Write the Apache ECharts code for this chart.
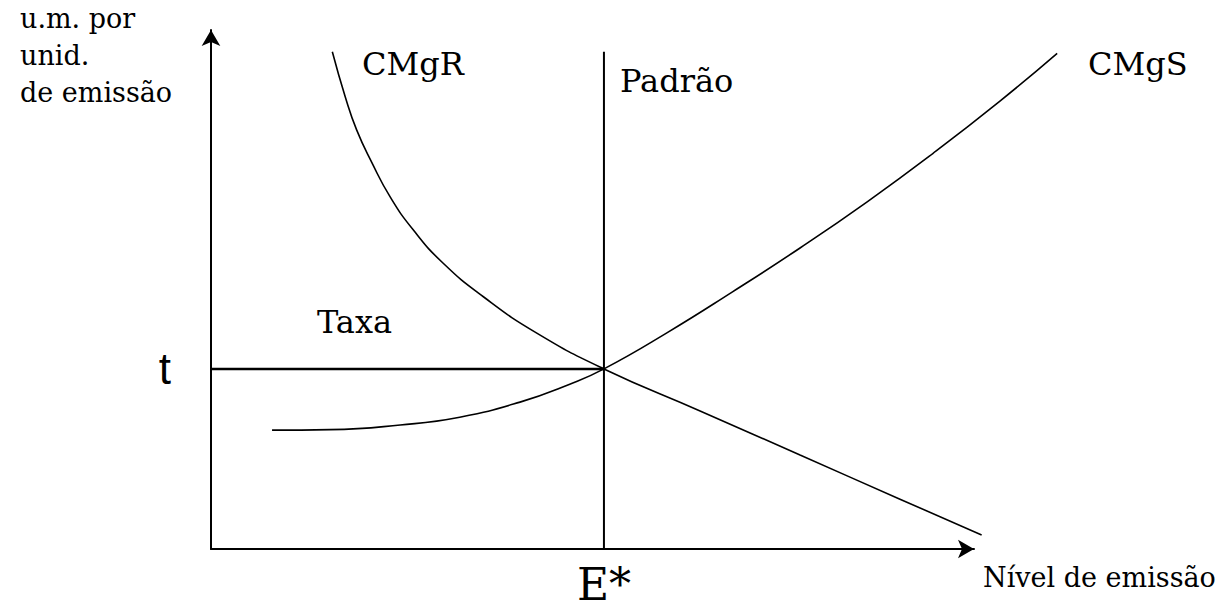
<!DOCTYPE html>
<html>
<head>
<meta charset="utf-8">
<script src="https://cdn.jsdelivr.net/npm/echarts@6/dist/echarts.min.js"></script>
<style>
  html, body { margin: 0; padding: 0; background: #fff; }
  #chart { width: 1225px; height: 611px; }
</style>
</head>
<body>
<div id="chart"></div>
<script>
// values (x: emission level, y: cost per unit)
const cmgR = [[1.59, 9.58], [1.76, 8.71], [1.91, 8.07], [2.11, 7.44], [2.35, 6.78], [2.65, 6.15],
  [3.04, 5.51], [3.57, 4.86], [4.27, 4.16], [5.15, 3.47], [6.41, 2.66], [7.72, 1.81], [9.03, 0.96], [10.1, 0.27]]
const cmgS = [[0.8, 2.29], [1.56, 2.3], [2.48, 2.39], [3.26, 2.54], [4.05, 2.83], [4.71, 3.18], [5.15, 3.47],
  [5.98, 4.17], [6.84, 4.96], [7.72, 5.8], [8.6, 6.69], [9.46, 7.62], [10.34, 8.63], [11.09, 9.55]]
const eStar = 5.15
const tRate = 3.47
const padraoTop = 9.58
const xTickLabels = ['E*']
const yTickLabels = ['t']

const chart = echarts.init(document.getElementById('chart'), null, { renderer: 'svg' })

const serif = '"DejaVu Serif", serif'
// curves run past the arrow heads, so they sit on a wider hidden grid with the same scale
const unitPx = 76.3
const curveMaxX = 11.5

const option = {
  backgroundColor: '#fff',
  animation: false,
  grid: [
    { left: 211, right: 251, top: 30, bottom: 62 },
    { left: 211, width: unitPx * curveMaxX, top: 30, bottom: 62 }
  ],
  xAxis: [
    {
      type: 'value',
      gridIndex: 0,
      min: 0,
      max: 10,
      splitLine: { show: false },
      axisTick: { show: false },
      axisLine: {
        lineStyle: { color: '#000', width: 2 },
        symbol: ['none', 'arrow'],
        symbolSize: [14, 16]
      },
      axisLabel: {
        customValues: [eStar],
        formatter: () => xTickLabels[0],
        color: '#000',
        fontFamily: serif,
        fontSize: 44,
        margin: 13
      }
    },
    { type: 'value', gridIndex: 1, min: 0, max: curveMaxX, show: false }
  ],
  yAxis: [
    {
      type: 'value',
      gridIndex: 0,
      min: 0,
      max: 10,
      splitLine: { show: false },
      axisTick: { show: false },
      axisLine: {
        lineStyle: { color: '#000', width: 2 },
        symbol: ['none', 'arrow'],
        symbolSize: [14, 16]
      },
      axisLabel: {
        customValues: [tRate],
        formatter: () => yTickLabels[0],
        color: '#000',
        fontFamily: '"Liberation Sans", sans-serif',
        fontSize: 44,
        margin: 40
      }
    },
    { type: 'value', gridIndex: 1, min: 0, max: 10, show: false }
  ],
  series: [
    {
      name: 'CMgR',
      type: 'line',
      xAxisIndex: 1,
      yAxisIndex: 1,
      data: cmgR,
      smooth: 0.5,
      showSymbol: false,
      lineStyle: { color: '#000', width: 1.6 }
    },
    {
      name: 'CMgS',
      type: 'line',
      xAxisIndex: 1,
      yAxisIndex: 1,
      data: cmgS,
      smooth: 0.5,
      showSymbol: false,
      lineStyle: { color: '#000', width: 1.6 }
    },
    {
      name: 'Padrão',
      type: 'line',
      data: [[eStar, 0], [eStar, padraoTop]],
      showSymbol: false,
      lineStyle: { color: '#000', width: 2 }
    },
    {
      name: 'Taxa',
      type: 'line',
      data: [[0, tRate], [eStar, tRate]],
      showSymbol: false,
      lineStyle: { color: '#000', width: 2.5 }
    }
  ],
  graphic: [
    {
      type: 'text', left: 20, top: 0,
      style: { text: 'u.m. por\nunid.\nde emissão', fill: '#000', fontFamily: serif, fontSize: 27, lineHeight: 37 }
    },
    {
      type: 'text', left: 983, top: 564,
      style: { text: 'Nível de emissão', fill: '#000', fontFamily: serif, fontSize: 27 }
    },
    {
      type: 'text', left: 362, top: 48,
      style: { text: 'CMgR', fill: '#000', fontFamily: serif, fontSize: 32 }
    },
    {
      type: 'text', left: 620, top: 65,
      style: { text: 'Padrão', fill: '#000', fontFamily: serif, fontSize: 32 }
    },
    {
      type: 'text', left: 1088, top: 48,
      style: { text: 'CMgS', fill: '#000', fontFamily: serif, fontSize: 32 }
    },
    {
      type: 'text', left: 317, top: 306,
      style: { text: 'Taxa', fill: '#000', fontFamily: serif, fontSize: 32 }
    }
  ]
}

chart.setOption(option)

window.addEventListener('resize', () => {
  chart.resize()
})
</script>
</body>
</html>
